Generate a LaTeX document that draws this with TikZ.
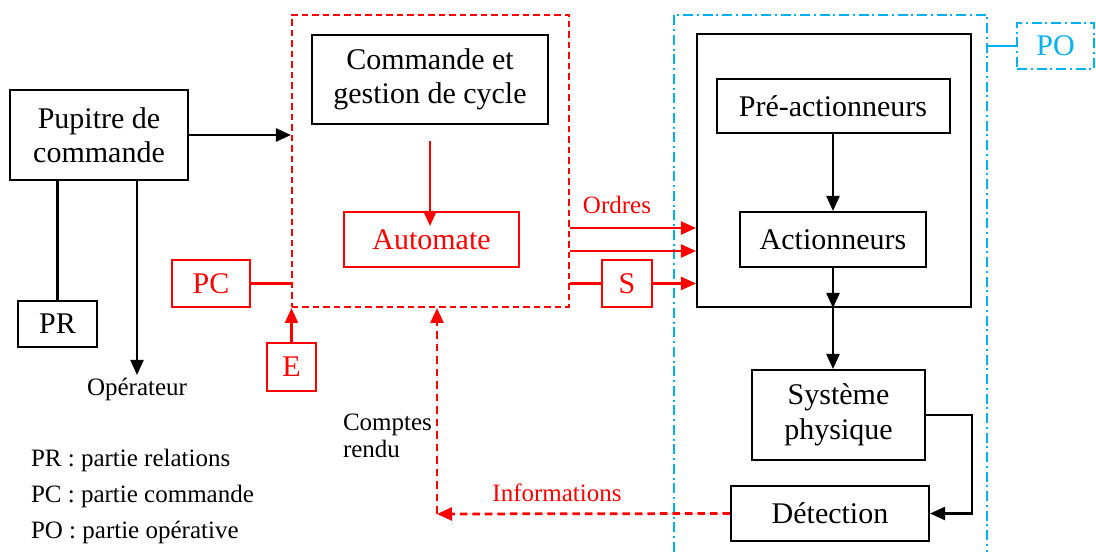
\documentclass[tikz,border=0pt]{standalone}
\usepackage{fontspec}
\setmainfont{Liberation Serif}
\usetikzlibrary{arrows.meta}
\definecolor{pcred}{RGB}{255,0,0}
\definecolor{poblue}{RGB}{0,176,240}
\begin{document}
    \begin{tikzpicture}[x=0.4pt, y=-0.4pt,
            bloc/.style={draw, line width=0.8pt, align=center, inner sep=0pt, font=\fontsize{12}{13.8}\selectfont},
            redbloc/.style={bloc, draw=pcred, text=pcred},
            smalltext/.style={font=\fontsize{10}{11}\selectfont, inner sep=1pt},
            arr/.style={-{Triangle[length=6pt, width=5.2pt]}, line width=0.9pt},
            redarr/.style={arr, draw=pcred, fill=pcred},
            redline/.style={line width=0.9pt, draw=pcred},
            pcdash/.style={draw=pcred, line width=0.8pt, dash pattern=on 2.6pt off 1.6pt},
            infoarr/.style={redarr, line width=1.1pt, dash pattern=on 3pt off 2pt},
            podash/.style={draw=poblue, line width=0.9pt, dash pattern=on 4pt off 1.5pt on 0.8pt off 1.5pt}]
        \useasboundingbox (0,0) rectangle (1096,552);
        \node[pcdash, minimum width=110.8pt, minimum height=116.8pt] (pcbox) at (430.5,161) {};
        \draw[podash] (674,552) -- (674,15) -- (987,15) -- (987,552);
        \coordinate (potr) at (987,15);
        \node[bloc, minimum width=71.2pt, minimum height=36pt] (pupitre) at (99,135) {Pupitre de\\commande};
        \node[bloc, minimum width=31.6pt, minimum height=18.4pt] (pr) at (57.5,324) {PR};
        \node[smalltext, anchor=north] (oper) at (137,375) {Opérateur};
        \node[bloc, minimum width=94.4pt, minimum height=35.6pt] (cmd) at (430,79.5) {Commande et\\gestion de cycle};
        \node[redbloc, minimum width=70pt, minimum height=22pt] (auto) at (431.5,239.5) {Automate};
        \node[redbloc, minimum width=31.2pt, minimum height=18.8pt] (pc) at (211,283.5) {PC};
        \node[redbloc, minimum width=19.6pt, minimum height=19.2pt] (e) at (291.5,367) {E};
        \node[redbloc, minimum width=20pt, minimum height=18.8pt] (s) at (627,283.5) {S};
        \node[bloc, minimum width=109.6pt, minimum height=109.2pt] (big) at (834,170.5) {};
        \node[bloc, minimum width=93.2pt, minimum height=21.6pt] (pre) at (833,106) {Pré-actionneurs};
        \node[bloc, minimum width=74.4pt, minimum height=22pt] (act) at (833,239.5) {Actionneurs};
        \node[bloc, minimum width=69.2pt, minimum height=36pt] (sys) at (838.5,415) {Système\\physique};
        \node[bloc, minimum width=79.2pt, minimum height=22pt] (det) at (830,513.5) {Détection};
        \node[bloc, podash, text=poblue, minimum width=30.8pt, minimum height=18.4pt] (po) at (1055.5,46) {PO};
        \node[smalltext, text=pcred] (ordres) at (617,205) {Ordres};
        \node[smalltext, text=pcred] (infos) at (557,493) {Informations};
        \node[smalltext, align=left, anchor=west] (comptes) at (340,436) {Comptes\\rendu};
        \node[smalltext, anchor=west] (legpr) at (28,460) {PR : partie relations};
        \node[smalltext, anchor=west] (legpc) at (28,496) {PC : partie commande};
        \node[smalltext, anchor=west] (legpo) at (28,532) {PO : partie opérative};
        \coordinate (corner) at (437,514);
        \draw[arr] (pupitre.east) -- (pupitre.east -| pcbox.west);
        \draw[line width=0.9pt] (pr.north |- pupitre.south) -- (pr.north);
        \draw[arr] (pupitre.south -| oper.north) -- (oper.north);
        \draw[redline] (pc.east) -- (pc.east -| pcbox.west);
        \draw[redarr] (e.north) -- (e.north |- pcbox.south);
        \draw[redarr] ([yshift=-6.4pt]cmd.south) -- ([yshift=-6pt]cmd.south |- auto.north);
        \draw[redarr] (pcbox.east |- 0,228) -- (big.west |- 0,228);
        \draw[redarr] (pcbox.east |- 0,251) -- (big.west |- 0,251);
        \draw[redline] (pcbox.east |- s.west) -- (s.west);
        \draw[redarr] (s.east) -- (s.east -| big.west);
        \draw[arr] (pre.south) -- (act.north);
        \draw[arr] (act.south) -- (act.south |- big.south);
        \draw[arr] (act.south |- big.south) -- (act.south |- sys.north);
        \draw[arr] (sys.east) -- ++(46,0) |- (det.east);
        \draw[infoarr] (det.west) -- (corner);
        \draw[infoarr] (corner) -- (corner |- pcbox.south);
        \draw[draw=poblue, line width=0.9pt] (po.west) -- (po.west -| potr);
    \end{tikzpicture}
\end{document}
